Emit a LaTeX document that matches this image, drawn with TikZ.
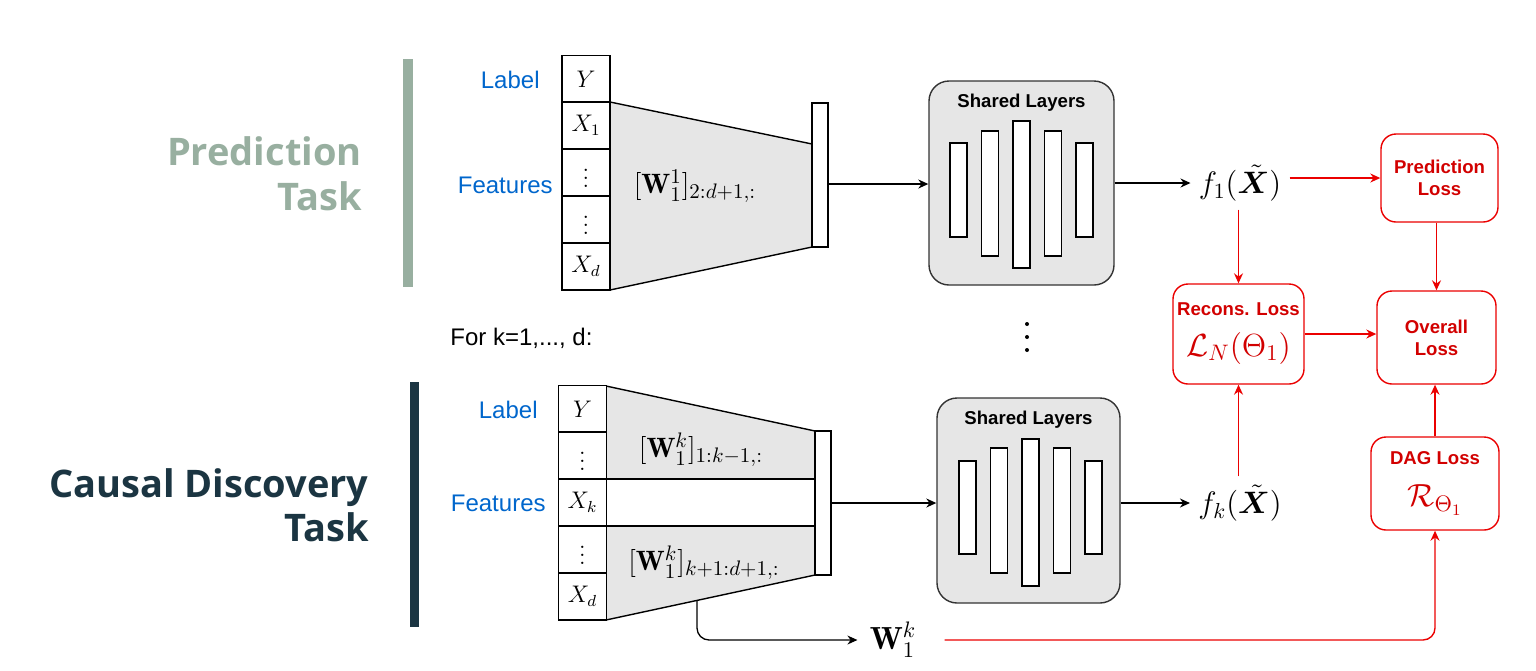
\RequirePackage{fix-cm}
\documentclass[tikz,border=0pt]{standalone}
\usepackage{amsmath,bm}
\usepackage{fontspec}
\DeclareMathSizes{14}{14}{10.5}{8}
\newfontfamily\hv{Liberation Sans}
\newfontfamily\osans{Open Sans}
\usetikzlibrary{arrows.meta}
\definecolor{gfill}{RGB}{230,230,230}
\definecolor{lblue}{RGB}{0,102,204}
\definecolor{predc}{RGB}{152,175,160}
\definecolor{causc}{RGB}{27,53,66}
\definecolor{rline}{RGB}{235,0,0}
\definecolor{rtext}{RGB}{210,0,0}
\begin{document}
\begin{tikzpicture}[x=0.5pt,y=-0.5pt,
  >={Stealth[length=5pt,width=4.5pt]},
  blk/.style={line width=0.7pt, draw=black},
  cell/.style={blk, fill=white, minimum width=24pt, minimum height=23.5pt, inner sep=0pt, font=\fontsize{12}{14}\selectfont},
  bar/.style={blk, fill=white, minimum width=8pt, minimum height=72pt, inner sep=0pt},
  shbox/.style={draw=black!80, line width=0.7pt, fill=gfill, rounded corners=10pt, minimum width=92.5pt, minimum height=102pt, inner sep=0pt},
  shtitle/.style={font=\hv\bfseries\fontsize{9.3}{11}\selectfont, inner sep=0pt},
  layer/.style={blk, fill=white, minimum width=8.5pt, inner sep=0pt},
  lbl/.style={font=\hv\fontsize{12}{14}\selectfont, text=lblue, anchor=east, inner sep=0pt},
  wlab/.style={font=\fontsize{14}{17}\selectfont, inner sep=0pt},
  fx/.style={font=\fontsize{15.5}{18}\selectfont, inner sep=4pt},
  rbox/.style={draw=rline, line width=0.7pt, fill=white, rounded corners=7.5pt, inner sep=0pt, text=rtext, align=center, font=\hv\bfseries\fontsize{9.3}{11}\selectfont},
  rtxt/.style={text=rtext, font=\hv\bfseries\fontsize{9.3}{11}\selectfont, inner sep=0pt},
  rmath/.style={text=rtext, font=\fontsize{16}{18}\selectfont, inner sep=0pt},
  rarr/.style={draw=rline, line width=0.7pt, ->},
  barr/.style={draw=black, line width=0.65pt, ->},
  ttl/.style={font=\osans\bfseries\fontsize{19}{22.5}\selectfont, anchor=base east, inner sep=0pt}
]
\useasboundingbox (0,0) rectangle (1536,670);

% ---------- titles and side bars
\node[ttl, text=predc] (pt1) at (362,165) {Prediction};
\node[ttl, text=predc] (pt2) at (362,210) {Task};
\fill[predc] (403,59) rectangle (413,287);
\node[ttl, text=causc] (ct1) at (369,497) {Causal Discovery};
\node[ttl, text=causc] (ct2) at (369,541) {Task};
\fill[causc] (410,382) rectangle (419,627);

% ---------- top input
\filldraw[blk, fill=gfill] (610,102) -- (812,144) -- (812,247) -- (610,290) -- cycle;
\node[cell] (ty)  at (586,79)    {$Y$};
\node[cell] (tx1) at (586,125.5) {$X_1$};
\node[cell] (td1) at (586,172.5) {$\vdots$};
\node[cell] (td2) at (586,219.5) {$\vdots$};
\node[cell] (txd) at (586,266.5) {$X_d$};
\node[bar] (tbar) at (820,175) {};
\node[wlab] (tw) at (695,186) {$[\mathbf{W}_1^1]_{2:d+1,:}$};
\node[lbl] (tlab) at (540,80) {Label};
\node[lbl] (tfeat) at (553,185) {Features};

% ---------- top shared layers
\node[shbox] (sh1) at (1021.5,183) {};
\node[shtitle] (sh1t) at (1021.5,103) {Shared Layers};
\node[layer, minimum height=47pt]   (a1) at (958.5,190) {};
\node[layer, minimum height=62.5pt] (a2) at (990,193.5) {};
\node[layer, minimum height=73.5pt] (a3) at (1021.5,194.5) {};
\node[layer, minimum height=62.5pt] (a4) at (1053,193.5) {};
\node[layer, minimum height=47pt]   (a5) at (1084.5,190) {};
\draw[barr] (tbar.east |- 0,184) -- (sh1.west |- 0,184);
\node[fx] (f1) at (1240,183) {$f_1(\bm{\tilde{X}})$};
\draw[barr] (sh1.east) -- (f1.west);

% ---------- middle
\node[font=\hv\fontsize{12}{14}\selectfont, anchor=west, inner sep=0pt] (fork) at (450,338) {For k=1,..., d:};
\fill (1027,324) circle (2) (1027,337) circle (2) (1027,350) circle (2);

% ---------- bottom input
\filldraw[blk, fill=gfill] (606,386) -- (815,431) -- (815,575) -- (606,620) -- cycle;
\filldraw[blk, fill=white] (606,479) rectangle (815,526);
\node[cell, minimum height=23.4pt] (by)  at (582.5,409)   {$Y$};
\node[cell, minimum height=23.4pt] (bd1) at (582.5,455.5) {$\vdots$};
\node[cell, minimum height=23.4pt] (bxk) at (582.5,502.5) {$X_k$};
\node[cell, minimum height=23.4pt] (bd2) at (582.5,549.5) {$\vdots$};
\node[cell, minimum height=23.4pt] (bxd) at (582.5,596.5) {$X_d$};
\node[bar] (bbar) at (823,503) {};
\node[wlab] (bw1) at (701,450) {$[\mathbf{W}_1^k]_{1:k-1,:}$};
\node[wlab] (bw2) at (704,563) {$[\mathbf{W}_1^k]_{k+1:d+1,:}$};
\node[lbl] (blab) at (538,410) {Label};
\node[lbl] (bfeat) at (546,503) {Features};

% ---------- bottom shared layers
\node[shbox, minimum width=91.5pt, minimum height=102.5pt] (sh2) at (1028.5,500.5) {};
\node[shtitle] (sh2t) at (1028.5,420) {Shared Layers};
\node[layer, minimum height=46.5pt] (b1) at (967.5,507.5) {};
\node[layer, minimum height=62.5pt] (b2) at (999,510.5) {};
\node[layer, minimum height=73.5pt] (b3) at (1030.5,512.5) {};
\node[layer, minimum height=62.5pt] (b4) at (1062,510.5) {};
\node[layer, minimum height=46.5pt] (b5) at (1093.5,507.5) {};
\draw[barr] (bbar.east) -- (bbar.east -| sh2.west);
\node[fx] (fk) at (1240,503) {$f_k(\bm{\tilde{X}})$};
\draw[barr] (sh2.east |- fk.west) -- (fk.west);

% ---------- W_1^k
\coordinate (wk0) at (697,600);
\node[font=\fontsize{16}{18}\selectfont, inner sep=0pt] (wk) at (893,640) {$\mathbf{W}_1^k$};
\draw[barr, rounded corners=6pt, shorten >=6pt] (wk0) |- (wk.west);

% ---------- loss boxes
\node[rbox, minimum width=58.5pt, minimum height=44pt] (pl) at (1439.5,178) {Prediction\\Loss};
\node[rbox, minimum width=65.5pt, minimum height=50pt] (rl) at (1238.5,334) {};
\node[rtxt] (rlt) at (1238.5,309) {Recons. Loss};
\node[rmath] (rlm) at (1238.5,348) {$\mathcal{L}_N(\Theta_1)$};
\node[rbox, minimum width=59.5pt, minimum height=46.5pt] (ol) at (1436.5,337.5) {Overall\\Loss};
\node[rbox, minimum width=64pt, minimum height=46.5pt] (dl) at (1435,483.5) {};
\node[rtxt] (dlt) at (1435,458) {DAG Loss};
\node[rmath] (dlm) at (1435,500) {$\mathcal{R}_{\Theta_1}$};

\draw[rarr] (f1.east |- pl.west) -- (pl.west);
\draw[rarr] (f1.south -| rl.north) -- (rl.north);
\draw[rarr] (rl.east) -- (rl.east -| ol.west);
\draw[rarr] (pl.south -| ol.north) -- (ol.north);
\draw[rarr] (dl.north) -- (dl.north |- ol.south);
\draw[rarr] (fk.north -| rl.south) -- (rl.south);
\draw[rarr, rounded corners=6pt, shorten <=14pt] (wk.east) -| (dl.south);
\end{tikzpicture}
\end{document}
